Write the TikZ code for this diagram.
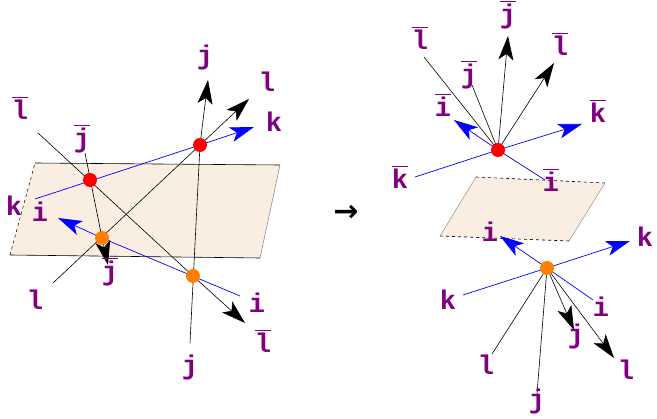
\documentclass[tikz,border=0pt]{standalone}
\usepackage{fontspec}
\newfontfamily\lab{Liberation Mono}
\usetikzlibrary{arrows.meta}
\definecolor{lc}{RGB}{128,0,128}
\definecolor{pf}{RGB}{250,238,226}
\tikzset{
 lb/.style={font=\lab\bfseries\fontsize{27}{27}\selectfont, text=lc, inner sep=0pt},
 bl/.style={black, line width=0.6pt},
 bu/.style={blue, line width=0.7pt},
 ar/.style={-{Stealth[length=24pt,width=15pt,inset=6pt]}},
 rd/.style={circle, fill=red, minimum size=14pt, inner sep=0pt},
 od/.style={circle, fill=orange, minimum size=14pt, inner sep=0pt},
}
\newcommand{\ob}[1]{\raisebox{0pt}[0pt][0pt]{$\overline{\raisebox{0pt}[0.78em][0pt]{#1}}$}}
\begin{document}
\begin{tikzpicture}[x=1pt,y=-1pt]
\useasboundingbox (0,0) rectangle (657,419);
% left plane
\fill[pf] (35,163) -- (280,165) -- (260,258) -- (10,255) -- cycle;
\draw[black, line width=0.6pt] (35,163) -- (280,165);
\draw[black, line width=0.6pt] (260,258) -- (10,255);
\draw[gray, line width=0.5pt] (280,165) -- (260,258);
\draw[black, dashed, line width=0.5pt] (10,255) -- (35,163);
\coordinate (R1) at (90,180); \coordinate (R2) at (200,145);
\coordinate (O1) at (102,238); \coordinate (O2) at (193,276);
\coordinate (kt) at (35,199); \coordinate (kh) at (254,127);
\coordinate (it) at (240,296); \coordinate (ih) at (58,218);
\coordinate (jt) at (190,343); \coordinate (jh) at (208,80);
\coordinate (lt) at (53,283); \coordinate (lh) at (249,99);
\coordinate (Lt) at (38,133); \coordinate (Lh) at (245,323);
\coordinate (Jt) at (85,153); \coordinate (Jh) at (108,265);
\draw[bl] (Lt) -- (O2); \draw[bl,ar] (O2) -- (Lh);
\draw[bl] (Jt) -- (O1); \draw[bl,ar] (O1) -- (Jh);
\draw[bl] (lt) -- (R2); \draw[bl,ar] (R2) -- (lh);
\draw[bl] (jt) -- (R2); \draw[bl,ar] (R2) -- (jh);
\draw[bu] (kt) -- (R2); \draw[bu,ar,blue] (R2) -- (kh);
\draw[bu] (it) -- (O1); \draw[bu,ar,blue] (O1) -- (ih);
\node[rd] (r1) at (R1) {}; \node[rd] (r2) at (R2) {};
\node[od] (o1) at (O1) {}; \node[od] (o2) at (O2) {};
\node[lb] (a1) at (14,206) {k}; \node[lb] (a2) at (274,122) {k};
\node[lb] (a3) at (40,212) {i}; \node[lb] (a4) at (257,303) {i};
\node[lb] (a5) at (205,58) {j}; \node[lb] (a6) at (190,368) {j};
\node[lb] (a7) at (35,300) {l}; \node[lb] (a8) at (267,82) {l};
\node[lb] (a9) at (20,120) {\ob{l}}; \node[lb] (a10) at (263,353) {\ob{l}};
\node[lb] (a11) at (82,148) {\ob{j}}; \node[lb] (a12) at (110,281) {\ob{j}};
\node[font=\fontspec{DejaVu Sans}\bfseries\fontsize{30}{30}\selectfont] (arr) at (346,213) {→};
% right plane
\fill[pf] (476,177) -- (605,183) -- (569,241) -- (440,236) -- cycle;
\draw[black, dashed, line width=0.6pt] (476,177) -- (605,183);
\draw[black, dashed, line width=0.6pt] (569,241) -- (440,236);
\draw[gray, line width=0.4pt] (605,183) -- (569,241) (440,236) -- (476,177);
\coordinate (R) at (498,150); \coordinate (O) at (547,268);
\draw[bl] (424,57) coordinate (p1) -- (R);
\draw[bl] (472,85) coordinate (p2) -- (R);
\draw[bl,ar] (R) -- (508,36) coordinate (p3);
\draw[bl,ar] (R) -- (554,63) coordinate (p4);
\draw[bu,ar] (R) -- (454,120) coordinate (p5);
\draw[bu,ar] (R) -- (582,124) coordinate (p6);
\draw[bu] (415,177) coordinate (p7) -- (R);
\draw[bu] (545,180) coordinate (p8) -- (R);
\node[rd] (r3) at (R) {};
\draw[bu,ar] (O) -- (500,236) coordinate (q1);
\draw[bu,ar] (O) -- (630,241) coordinate (q2);
\draw[bu] (463,295) coordinate (q3) -- (O);
\draw[bu] (593,300) coordinate (q4) -- (O);
\draw[bl] (492,354) coordinate (q5) -- (O);
\draw[bl] (537,394) coordinate (q6) -- (O);
\draw[bl,ar] (O) -- (574,330) coordinate (q7);
\draw[bl,ar] (O) -- (614,358) coordinate (q8);
\node[od] (o3) at (O) {};
\node[lb] (b1) at (420,50) {\ob{l}}; \node[lb] (b2) at (469,84) {\ob{j}};
\node[lb] (b3) at (508,24) {\ob{j}}; \node[lb] (b4) at (560,56) {\ob{l}};
\node[lb] (b5) at (443,117) {\ob{i}}; \node[lb] (b6) at (598,123) {\ob{k}};
\node[lb] (b7) at (400,189) {\ob{k}}; \node[lb] (b8) at (551,192) {\ob{i}};
\node[lb] (c1) at (490,232) {i}; \node[lb] (c2) at (645,237) {k};
\node[lb] (c3) at (448,300) {k}; \node[lb] (c4) at (601,307) {i};
\node[lb] (c5) at (486,365) {l}; \node[lb] (c6) at (537,402) {j};
\node[lb] (c7) at (576,337) {j}; \node[lb] (c8) at (626,370) {l};
\end{tikzpicture}
\end{document}
